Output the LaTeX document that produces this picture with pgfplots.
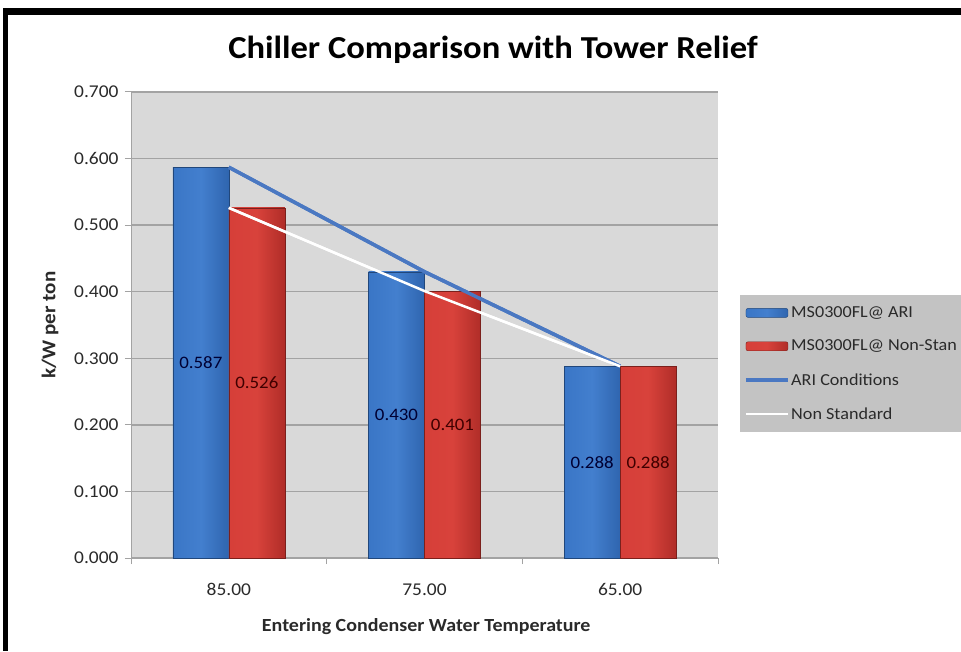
\documentclass[border=0pt]{standalone}
\usepackage{fontspec}
\setmainfont{Carlito}[FakeStretch=1.08]
\usepackage{pgfplots}
\pgfplotsset{compat=1.18}
\definecolor{plotgray}{HTML}{D9D9D9}
\definecolor{gridgray}{HTML}{A3A3A3}
\definecolor{leggray}{HTML}{C3C3C3}
\definecolor{bleft}{HTML}{3A76C6}
\definecolor{bmid}{HTML}{437FCE}
\definecolor{bright}{HTML}{2F65AF}
\definecolor{rleft}{HTML}{D63F39}
\definecolor{rmid}{HTML}{D8423B}
\definecolor{rright}{HTML}{B02D28}
\definecolor{lineblue}{HTML}{4A78C2}
\definecolor{txtgray}{HTML}{2A2A2A}
\pgfplotsset{
  barleg/.style={legend image code/.code={\draw[##1, rounded corners=2pt] (0pt,-4.5pt) rectangle (42pt,4.5pt);}},
  lineleg/.style={legend image code/.code={\draw[##1] (0pt,0pt) -- (42pt,0pt);}},
  bluebar/.style={ybar, bar width=0.286, bar shift=-0.143, draw=bright!70!black, line width=0.4pt,
    left color=bleft, right color=bright, middle color=bmid,
    nodes near coords={\pgfmathprintnumber[fixed,zerofill,precision=3]{\pgfplotspointmeta}},
    every node near coord/.append style={anchor=center, xshift=-28pt, yshift=-\rawy*332.86pt, font=\fontsize{17.5}{20}\selectfont, text=blue!20!black},
    barleg},
  redbar/.style={ybar, bar width=0.286, bar shift=0.143, draw=rright!70!black, line width=0.4pt,
    left color=rleft, right color=rright, middle color=rmid,
    nodes near coords={\pgfmathprintnumber[fixed,zerofill,precision=3]{\pgfplotspointmeta}},
    every node near coord/.append style={anchor=center, xshift=28pt, yshift=-\rawy*332.86pt, font=\fontsize{17.5}{20}\selectfont, text=red!25!black},
    barleg},
}
\begin{document}
\begin{tikzpicture}
\fill[white] (0,0) rectangle (961pt,651pt);
\path[use as bounding box] (0,0) rectangle (961pt,651pt);
\fill[black] (3pt,0pt) rectangle (8pt,643pt);
\fill[black] (3pt,636pt) rectangle (961pt,643pt);
\node[font=\fontsize{32}{36}\selectfont\bfseries, text=black] at (493pt,601pt) {Chiller Comparison with Tower Relief};
\begin{axis}[
  at={(131pt,93pt)}, anchor=south west,
  width=587pt, height=466pt, scale only axis,
  xmin=-0.5, xmax=2.5, ymin=0, ymax=0.7,
  /pgf/number format/assume math mode=true,
  axis background/.style={fill=plotgray},
  axis x line*=bottom, axis y line*=left,
  axis line style={draw=gridgray, line width=1pt},
  ymajorgrids, grid style={draw=gridgray, line width=1.3pt},
  ytick={0,0.1,0.2,0.3,0.4,0.5,0.6,0.7},
  yticklabel style={xshift=-3pt, /pgf/number format/.cd, fixed, fixed zerofill, precision=3},
  xtick={-0.5,0.5,1.5,2.5}, xticklabels={},
  extra x ticks={0,1,2}, extra x tick labels={85.00,75.00,65.00},
  extra x tick style={grid=none, major tick length=0pt, xticklabel style={yshift=-22pt}},
  tick align=outside, major tick length=6pt,
  tick style={draw=gridgray, line width=1pt},
  tick label style={font=\fontsize{18}{20}\selectfont, text=txtgray},
  xlabel={Entering Condenser Water Temperature},
  ylabel={k/W per ton},
  xlabel style={at={(axis description cs:0.503,-0.148)}, anchor=center, font=\fontsize{18.5}{20}\selectfont\bfseries, text=txtgray},
  ylabel style={at={(axis description cs:-0.138,0.5)}, anchor=center, font=\fontsize{19.5}{20}\selectfont\bfseries, text=txtgray},
  legend style={at={(axis description cs:1.0375,0.5644)}, anchor=north west,
    fill=leggray, draw=none, font=\fontsize{16.8}{20}\selectfont, text=txtgray,
    row sep=18pt, inner xsep=4pt, inner ysep=10pt,
    nodes={inner sep=1.5pt}},
  legend cell align=left,
  visualization depends on=rawy\as\rawy,
]
\addplot[bluebar] coordinates {(0,0.587)};
\addlegendentry{MS0300FL@ ARI}
\addplot[redbar] coordinates {(0,0.526)};
\addlegendentry{MS0300FL@ Non-Stan}
\addplot[sharp plot, no marks, color=lineblue, line width=3.5pt, lineleg]
  coordinates {(0,0.587) (1,0.430) (2,0.288)};
\addlegendentry{ARI Conditions}
\addplot[sharp plot, no marks, color=white, line width=2.5pt, lineleg]
  coordinates {(0,0.526) (1,0.401) (2,0.288)};
\addlegendentry{Non Standard}
\addplot[bluebar, forget plot] coordinates {(1,0.430)};
\addplot[bluebar, forget plot] coordinates {(2,0.288)};
\addplot[redbar, forget plot] coordinates {(1,0.401)};
\addplot[redbar, forget plot] coordinates {(2,0.288)};
\addplot[sharp plot, no marks, color=lineblue, line width=3.5pt, forget plot]
  coordinates {(0,0.587) (1,0.430) (2,0.288)};
\addplot[sharp plot, no marks, color=white, line width=2.5pt, forget plot]
  coordinates {(0,0.526) (1,0.401) (2,0.288)};
\end{axis}
\end{tikzpicture}
\end{document}
